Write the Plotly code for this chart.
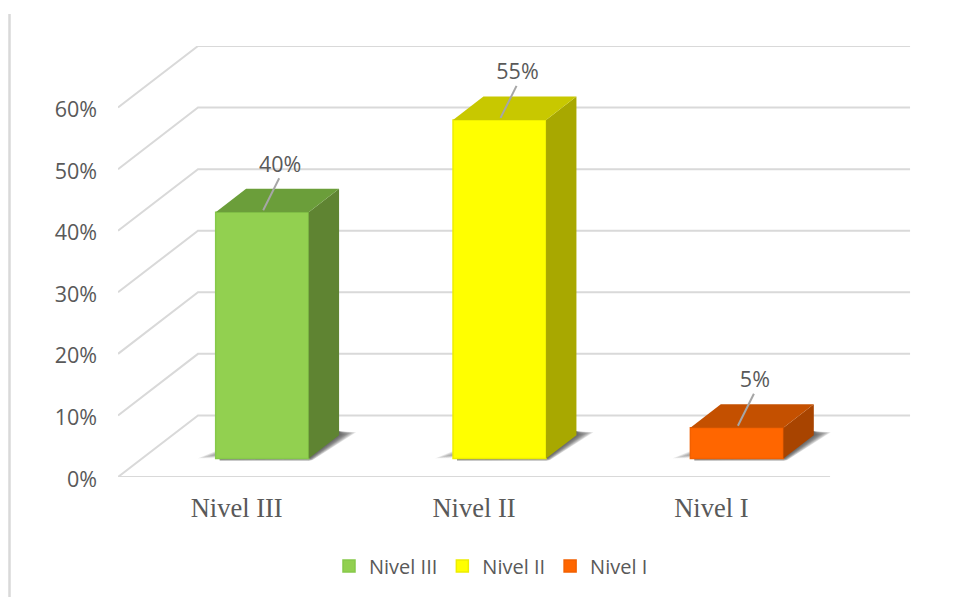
import plotly.graph_objects as go

categories = ["Nivel III", "Nivel II", "Nivel I"]
values = [0.40, 0.55, 0.05]
y_ticks = [0, 0.1, 0.2, 0.3, 0.4, 0.5, 0.6]
y_labels = ["0%", "10%", "20%", "30%", "40%", "50%", "60%"]
front_colors = ["#92D050", "#FFFF00", "#FF6600"]
edge_colors = ["#86C94A", "#EDED00", "#F26000"]
top_colors = ["#6B9E3A", "#C8C800", "#C45000"]
side_colors = ["#5F8432", "#A8A800", "#A84400"]

GRID = "#D9D9D9"
TXT = "#595959"
XR = [-0.5, 2.841]
YR = [0, 0.7]
PXX = 793 / (XR[1] - XR[0])   # pixels per x unit
PXY = 431 / 0.7               # pixels per y unit
DX, DY = 80 / PXX, 0.1        # full depth of floor
BAR_W = 93 / PXX
D0, D1 = 0.30, 0.68           # bar depth span
W, H = 949, 589               # page adds an 8 px body margin


def px(dx):
    return dx / PXX


def py(dy):
    return dy / PXY


SHIFT = px(1.5)
fig = go.Figure()


def poly(xs, ys, color, axes=("x", "y")):
    fig.add_trace(go.Scatter(x=xs + xs[:1], y=ys + ys[:1], mode="lines", fill="toself",
                             fillcolor=color, line=dict(width=0), hoverinfo="skip",
                             showlegend=False, xaxis=axes[0], yaxis=axes[1]))


def line(xs, ys, color=GRID, width=2, axes=("x", "y")):
    fig.add_trace(go.Scatter(x=xs, y=ys, mode="lines", line=dict(color=color, width=width),
                             hoverinfo="skip", showlegend=False, cliponaxis=False,
                             xaxis=axes[0], yaxis=axes[1]))


# walls / floor
xl, xr = -0.5, 2.5
for v in y_ticks:
    line([xl, xl + DX, xr + DX], [v, v + DY, v + DY])
line([xl, xr], [0, 0])

# soft shadows (base layer)
for i, c in enumerate(categories):
    cx = i + DX * D0 + SHIFT
    base = DY * D0
    l, r = cx - BAR_W / 2, cx + BAR_W / 2
    sx, sy = DX * (D1 - D0), DY * (D1 - D0)
    for n in range(10):
        k = 1 - n / 10
        poly([l - px(18 * k), l + px(4), l + px(4), r, r + px(4 * k),
              r + sx + px(17 * k), r + sx],
             [base, base + py(9 * k), base - py(2.5 * k), base - py(2.5 * k),
              base - py(1.5 * k), base + sy + py(3 * k), base + sy + py(4)],
             "rgba(60,60,60,0.13)")

# front faces: real bars on overlay axes
for i, c in enumerate(categories):
    fig.add_trace(go.Bar(x=[i + DX * D0 + SHIFT], y=[values[i]], base=[DY * D0], width=[BAR_W],
                         name=c,
                         marker=dict(color=front_colors[i],
                                     line=dict(color=edge_colors[i], width=1.5)),
                         xaxis="x2", yaxis="y2", hoverinfo="skip"))

A2 = ("x2", "y2")
for i, c in enumerate(categories):
    cx = i + DX * D0 + SHIFT
    base = DY * D0
    l, r = cx - BAR_W / 2, cx + BAR_W / 2
    top = base + values[i]
    sx, sy = DX * (D1 - D0), DY * (D1 - D0)
    poly([r, r + sx, r + sx, r], [base, base + sy, top + sy, top], side_colors[i], A2)
    poly([l, l + sx, r + sx, r], [top, top + sy, top + sy, top], top_colors[i], A2)
    # leader line
    line([cx + px(1), cx + px(17)], [top + py(2), top + py(34)], "#A6A6A6", 2, A2)
    # data label
    fig.add_trace(go.Scatter(x=[cx + px(18)], y=[top + py(46)], mode="text",
                             text=[f"{round(values[i] * 100)}%"],
                             textfont=dict(family="Open Sans", size=21.5, color=TXT),
                             hoverinfo="skip", showlegend=False, cliponaxis=False,
                             xaxis="x2", yaxis="y2"))

fig.add_shape(type="line", xref="paper", yref="paper",
              x0=(9.5 - 118) / 793, x1=(9.5 - 118) / 793,
              y0=(477 - 14) / 431, y1=(477 - 597) / 431,
              line=dict(color=GRID, width=2.5))

fig.update_layout(
    width=W, height=H, autosize=False,
    margin=dict(l=110, r=46, t=38, b=120),
    paper_bgcolor="white", plot_bgcolor="white", barmode="overlay",
    xaxis=dict(range=XR, tickvals=[0, 1, 2], ticktext=categories, showgrid=False, zeroline=False,
               showline=False, ticks="", ticklabelstandoff=12,
               tickfont=dict(family="Liberation Serif", size=26.5, color=TXT)),
    yaxis=dict(range=YR, tickvals=y_ticks, ticktext=y_labels, showgrid=False, zeroline=False,
               showline=False, ticks="", ticklabelstandoff=20, ticklabelshift=2,
               tickfont=dict(family="Open Sans", size=21.5, color=TXT)),
    xaxis2=dict(range=XR, overlaying="x", visible=False),
    yaxis2=dict(range=YR, overlaying="y", visible=False),
    legend=dict(orientation="h", xref="paper", yref="paper", x=(329 - 118) / 793, xanchor="left",
                y=(477 - 566) / 431, yanchor="middle", itemwidth=30,
                font=dict(family="Open Sans", size=20, color=TXT), bgcolor="rgba(0,0,0,0)"),
    showlegend=True,
)

fig.write_html("out.html")
